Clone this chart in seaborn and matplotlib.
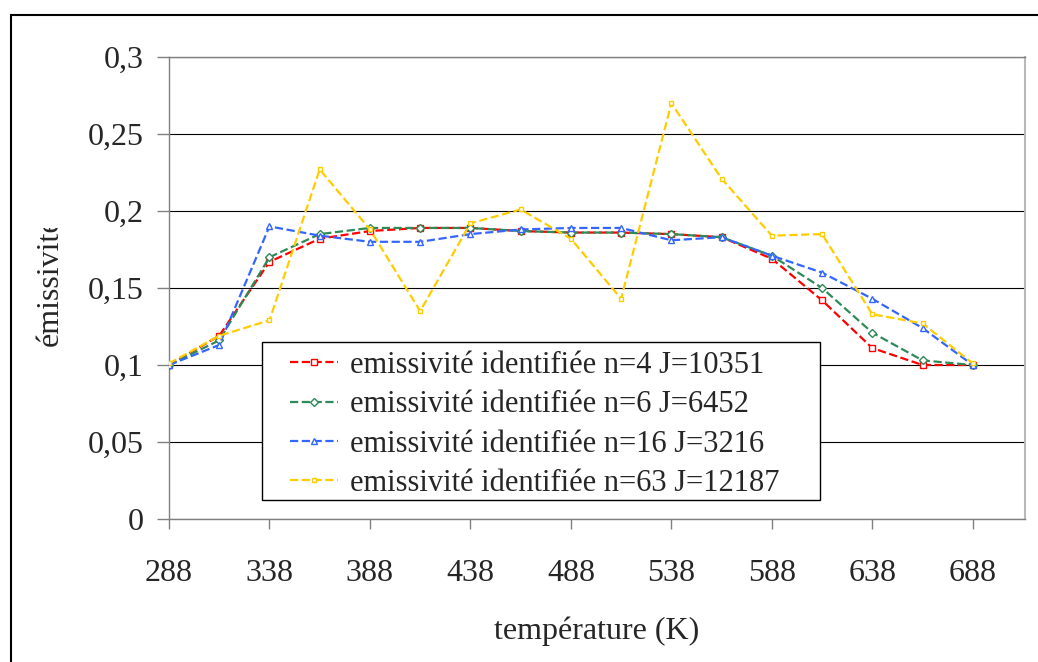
import matplotlib
matplotlib.use("Agg")
import matplotlib.pyplot as plt
from matplotlib.patches import Rectangle
from matplotlib.transforms import Bbox
import pandas as pd
import seaborn as sns

# temperatures (K) of the marked points
temperature = [288, 313, 338, 363, 388, 413, 438, 463, 488, 513, 538, 563, 588, 613, 638, 663, 688]

# identified emissivity for each parametrisation
emis_n4 = [0.100, 0.119, 0.167, 0.182, 0.187, 0.189, 0.189, 0.187, 0.186, 0.186, 0.185, 0.183, 0.169, 0.142, 0.111, 0.100, 0.100]
emis_n6 = [0.100, 0.116, 0.170, 0.185, 0.189, 0.189, 0.189, 0.187, 0.186, 0.186, 0.185, 0.183, 0.171, 0.150, 0.121, 0.103, 0.100]
emis_n16 = [0.100, 0.113, 0.190, 0.184, 0.180, 0.180, 0.185, 0.188, 0.189, 0.189, 0.181, 0.183, 0.171, 0.160, 0.143, 0.124, 0.100]
emis_n63 = [0.101, 0.119, 0.129, 0.227, 0.188, 0.135, 0.192, 0.201, 0.182, 0.143, 0.270, 0.221, 0.184, 0.185, 0.133, 0.127, 0.101]

series_labels = [
    "emissivité identifiée n=4 J=10351",
    "emissivité identifiée n=6 J=6452",
    "emissivité identifiée n=16 J=3216",
    "emissivité identifiée n=63 J=12187",
]
series_colors = ["#FF0000", "#2E8B57", "#3366FF", "#FFCC00"]
series_markers = ["s", "D", "^", "s"]
marker_sizes = [4.5, 4, 5, 3.5]

yticks = [0, 0.05, 0.1, 0.15, 0.2, 0.25, 0.3]
ytick_labels = ["0", "0,05", "0,1", "0,15", "0,2", "0,25", "0,3"]
xticks = [288, 338, 388, 438, 488, 538, 588, 638, 688]

sns.set_theme(style="white")
plt.rcParams["font.family"] = ["Liberation Serif", "DejaVu Serif"]

fig = plt.figure(figsize=(10.38, 6.62), dpi=100)
ax = fig.add_axes([0.1628, 0.2160, 0.8247, 0.6979])

# outer chart frame (left and top edges visible)
fig.patches.append(Rectangle((11 / 1038, -0.1), 1.2, 1.1 - 15 / 662, fill=False,
                             edgecolor="black", linewidth=1.5, transform=fig.transFigure))

for values, label, color, mk, ms in zip([emis_n4, emis_n6, emis_n16, emis_n63],
                                        series_labels, series_colors, series_markers, marker_sizes):
    df = pd.DataFrame({"T": temperature, "emis": values})
    sns.lineplot(data=df, x="T", y="emis", ax=ax, color=color, linestyle="--", linewidth=1.6,
                 marker=mk, markersize=ms, markerfacecolor="white", markeredgecolor=color,
                 markeredgewidth=1.0, label=label, zorder=3)

ax.set_xlim(288, 714)
ax.set_ylim(0, 0.3)
ax.set_xticks(xticks)
ax.set_xticklabels([str(t) for t in xticks])
ax.set_yticks(yticks)
ax.set_yticklabels(ytick_labels)

ax.yaxis.grid(True, color="black", linewidth=0.8)
ax.xaxis.grid(False)
ax.set_axisbelow(True)

for side in ["left", "bottom", "top"]:
    ax.spines[side].set_color("#808080")
    ax.spines[side].set_linewidth(1.0)
ax.spines["right"].set_color("#B8B8B8")
ax.spines["right"].set_linewidth(1.5)

ax.tick_params(axis="x", direction="out", length=7.5, width=1, color="#808080",
               pad=21, labelsize=23, bottom=True)
ax.tick_params(axis="y", direction="out", length=8.5, width=1, color="#808080",
               pad=10, labelsize=23, left=True)

ax.set_xlabel("température (K)", fontsize=23)
ax.xaxis.set_label_coords(0.5, -0.243)
ax.xaxis.label.set_va("center")
ax.set_ylabel("émissivité", fontsize=23)
ax.yaxis.set_label_coords(-0.139, 0.514)
ax.yaxis.label.set_va("center")
# the label is cut off at the top, as in the original
ax.yaxis.label.set_clip_on(True)
ax.yaxis.label.set_clip_box(Bbox([[0, 0], [1038, 434]]))

# legend box drawn separately so its padding matches the original
ax.add_patch(Rectangle((0.1086, 0.041), 0.6519, 0.342, transform=ax.transAxes,
                       facecolor="white", edgecolor="black", linewidth=1.0, zorder=4))
leg = ax.legend(loc="center left", bbox_to_anchor=(0.1414, 0.2045), fontsize=22,
                frameon=False, handlelength=1.57, handletextpad=0.4, labelspacing=0.34,
                borderpad=0, borderaxespad=0)
leg.set_zorder(5)

fig.savefig("out.png", dpi=100)
